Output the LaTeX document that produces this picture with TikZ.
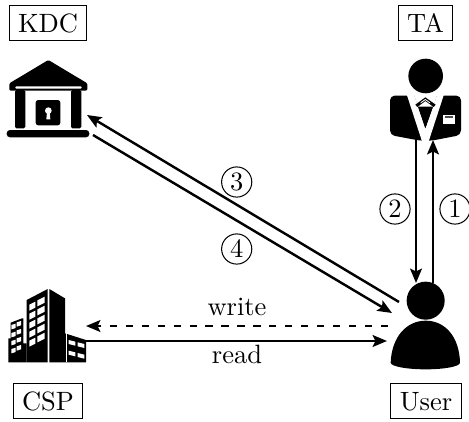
\documentclass[tikz,border=0pt]{standalone}
\usetikzlibrary{arrows.meta}
\tikzset{
  x=0.389pt,y=-0.389pt,
  label box/.style={draw,line width=0.4pt,scale=1.03,text height=6.83pt,text depth=0pt,inner xsep=3.4pt,inner ysep=3.2pt},
  num/.style={draw,circle,line width=0.4pt,scale=1.03,inner sep=0pt,minimum size=11.4pt},
  flow/.style={line width=0.95pt,-{Stealth[length=5.6pt,width=4.6pt,inset=1.1pt]}},
  word/.style={inner sep=0pt,scale=1.03}
}
\begin{document}
\begin{tikzpicture}
\useasboundingbox (0,0) rectangle (469,421);
% KDC icon
\begin{scope}[scale=0.33333]
\fill[rounded corners=0.5pt] (145,180) -- (262,250) -- (262,272) -- (28,272) -- (28,250) -- cycle;
\fill[white,rounded corners=0.4pt] (46,259) rectangle (245,266);
\fill[rounded corners=0.6pt] (45,270) rectangle (76,385);
\fill[rounded corners=0.6pt] (213,270) rectangle (244,385);
\fill[rounded corners=1pt] (107,300) rectangle (181,376);
\fill[white] (145,332) circle (3.9pt);
\fill[white] (141,335) -- (149,335) -- (151,358) -- (139,358) -- cycle;
\fill[rounded corners=1.3pt] (20,390) rectangle (268,412);
\end{scope}
% TA icon
\begin{scope}[shift={(370,0)},scale=0.33333]
\fill (167,228) circle (20.2pt);
\fill[rounded corners=1.8pt] (60,405) -- (60,287) -- (273,287) -- (273,405) -- (185,422) -- (150,422) -- cycle;
\fill[white] (110,283) -- (132,283) -- (166,385) -- (202,283) -- (222,283) -- (176,424) -- (156,424) -- cycle;
\fill[white] (132,283) -- (202,283) -- (189,322) -- (144,322) -- cycle;
\fill[black] (144,320) -- (189,320) -- (166,385) -- cycle;
\fill[black] (136,314) -- (166,292) -- (197,314) -- (191,321) -- (166,303) -- (142,321) -- cycle;
\fill[white] (152,307) -- (166,297) -- (180,307) -- (180,310) -- (166,300) -- (152,310) -- cycle;
\fill[white] (220,345) rectangle (255,373);
\fill[black!70] (225,349) rectangle (250,353);
\end{scope}
% CSP icon
\begin{scope}[shift={(0,280)},scale=0.33333]
\fill (25,175) -- (32,175) -- (32,128) -- (66,115) -- (70,115) -- (70,190) -- (80,190) -- (80,247) -- (25,247) -- cycle;
\fill (80,60) -- (143,27) -- (143,247) -- (80,247) -- cycle;
\fill (148,27) -- (195,55) -- (195,160) -- (258,180) -- (258,247) -- (148,247) -- cycle;
\fill[white] (197,158) -- (201,158) -- (201,247) -- (197,247) -- cycle;
\foreach \a/\b in {34/135,50/127,34/159,50/151,34/183,50/175,34/207,50/199}
  \fill[white] (\a,\b) -- (\a+13,\b-4) -- (\a+13,\b+9) -- (\a,\b+13) -- cycle;
\foreach \r in {0,1,2,3,4}{
  \fill[white] (88,74+27*\r) -- (106,65+27*\r) -- (106,83+27*\r) -- (88,92+27*\r) -- cycle;
  \fill[white] (112,61+27*\r) -- (134,50+27*\r) -- (134,68+27*\r) -- (112,79+27*\r) -- cycle;
}
\foreach \a/\b in {206/180,233/187,206/212,233/219}
  \fill[white] (\a,\b) -- (\a+20,\b+5) -- (\a+20,\b+17) -- (\a,\b+12) -- cycle;
\end{scope}
% User icon
\begin{scope}[shift={(360,270)},scale=0.33333]
\fill (197,92) circle (22.2pt);
\fill (92,278) .. controls (95,200) and (140,152) .. (197,152) .. controls (255,152) and (298,200) .. (300,278) .. controls (300,290) and (250,298) .. (197,298) .. controls (145,298) and (92,290) .. (92,278) -- cycle;
\end{scope}
% Labels
\node[label box] (kdc) at (48,23) {KDC};
\node[label box] (ta) at (425.5,23) {TA};
\node[label box] (csp) at (48,401) {CSP};
\node[label box] (user) at (426,401) {User};
\node[num] (n3) at (236.7,182) {3};
\node[num] (n4) at (236.7,249) {4};
\node[num] (n2) at (395,209) {2};
\node[num] (n1) at (455,209) {1};
\node[word] (w) at (237,307) {write};
\node[word] (r) at (237,354) {read};
% Connector ends
\coordinate (uA) at (433,283);
\coordinate (tA) at (433,140);
\coordinate (tB) at (416,140);
\coordinate (uB) at (416,283);
\coordinate (uC) at (399,302);
\coordinate (kC) at (87,115);
\coordinate (kD) at (93,135);
\coordinate (uD) at (392,313);
\coordinate (uE) at (388,326);
\coordinate (cE) at (86,326);
\coordinate (cF) at (85,341);
\coordinate (uF) at (387,341);
\draw[flow] (uA) -- (tA);
\draw[flow] (tB) -- (uB);
\draw[flow] (uC) -- (kC);
\draw[flow] (kD) -- (uD);
\draw[flow,dash pattern=on 2.8pt off 3.4pt] (uE) -- (cE);
\draw[flow] (cF) -- (uF);
\end{tikzpicture}
\end{document}
